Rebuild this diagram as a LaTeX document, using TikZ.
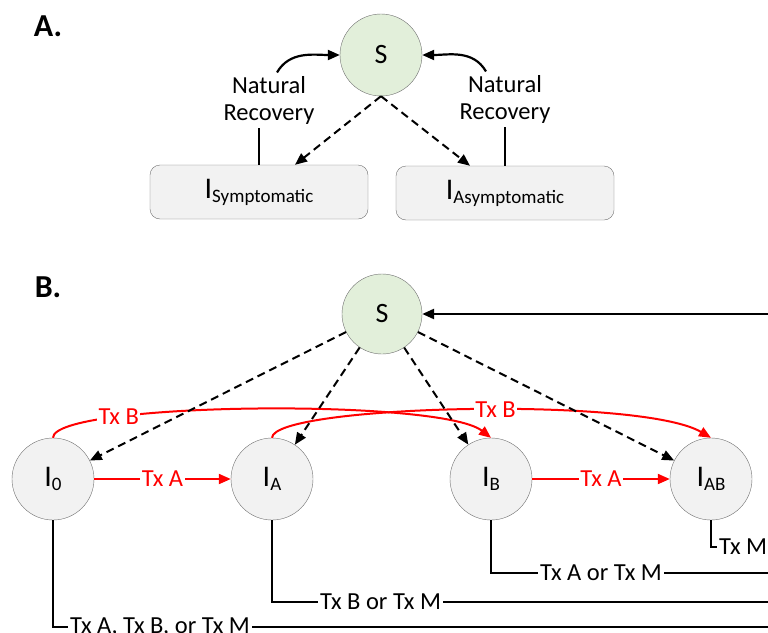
\documentclass[tikz,border=0pt]{standalone}
\usepackage{fontspec}
\setmainfont{Carlito}
\usetikzlibrary{arrows.meta}
\definecolor{susgreen}{HTML}{E2EFDA}
\definecolor{infgray}{HTML}{F2F2F2}
\definecolor{edgegray}{HTML}{707070}
\newcommand\lowsub[1]{\raisebox{-4pt}{\fontsize{19}{20}\selectfont #1}}
\begin{document}
\begin{tikzpicture}[x=1pt,y=1pt,
  font=\fontsize{24.5}{27}\selectfont,
  tip/.style={-{Triangle[length=12pt,width=10pt]}},
  panel/.style={font=\fontsize{32}{32}\selectfont\bfseries},
  sus/.style={draw=edgegray,circle,fill=susgreen,minimum size=82pt,inner sep=0pt,font=\fontsize{28}{28}\selectfont},
  state/.style={draw=edgegray,circle,fill=infgray,minimum size=82pt,inner sep=0pt,font=\fontsize{30}{30}\selectfont},
  box/.style={draw=edgegray,rounded corners=10pt,fill=infgray,minimum width=218pt,minimum height=54pt,font=\fontsize{30}{30}\selectfont},
  flow/.style={line width=2.2pt},
  infect/.style={line width=2pt,dash pattern=on 8pt off 5pt,tip},
  treat/.style={red,line width=2pt,tip},
  tlabel/.style={text=red,fill=white,inner sep=1.5pt},
  outlabel/.style={anchor=west,inner sep=2pt}]
\useasboundingbox (0,0) rectangle (768,-632);
\clip (0,0) rectangle (768,-632);
% panel A
\node[panel] (labA) at (48,-26) {A.};
\node[sus] (sA) at (381,-55) {S};
\node[box] (symp) at (259,-192) {I\lowsub{Symptomatic}};
\node[box] (asym) at (505,-193) {I\lowsub{Asymptomatic}};
\node[align=center] (nrL) at (269,-100) {Natural\\Recovery};
\node[align=center] (nrR) at (505,-99) {Natural\\Recovery};
\draw[flow] (symp.north) -- (symp.north |- nrL.south);
\draw[flow] (asym.north) -- (asym.north |- nrR.south);
\draw[flow,tip] ([xshift=8pt]nrL.north) to[out=60,in=180] (sA.west);
\draw[flow,tip] ([xshift=-19pt]nrR.north) to[out=120,in=0] (sA.east);
\draw[infect] (sA.south) -- ([xshift=36pt]symp.north);
\draw[infect] (sA.south) -- ([xshift=-35pt]asym.north);
% panel B
\node[panel] (labB) at (48,-287) {B.};
\node[sus,minimum size=80pt] (sB) at (382,-314) {S};
\node[state] (i0) at (53,-479) {I\lowsub{0}};
\node[state] (iA) at (272,-479) {I\lowsub{A}};
\node[state] (iB) at (491,-479) {I\lowsub{B}};
\node[state] (iAB) at (711,-479) {I\lowsub{AB}};
\coordinate (rim) at (768,0);
\draw[line width=2.5pt,tip] (rim |- sB) -- (sB.east);
% treatment
\draw[treat] (i0) -- node[tlabel]{Tx A} (iA);
\draw[treat] (iB) -- node[tlabel]{Tx A} (iAB);
\draw[treat] (i0.north) .. controls (53,-402) and (440,-398) .. (iB.north) node[tlabel,pos=0.26]{Tx B};
\draw[treat] (iA.north) .. controls (273,-405) and (640,-396) .. (iAB.north) node[tlabel,pos=0.55]{Tx B};
% infection
\foreach \inf in {i0,iA,iB,iAB}
  \draw[infect] (sB) -- (\inf);
% recovery
\node[outlabel] (out0) at (68,-627) {Tx A, Tx B, or Tx M};
\node[outlabel] (outA) at (318,-602) {Tx B or Tx M};
\node[outlabel] (outB) at (538,-573) {Tx A or Tx M};
\node[outlabel] (outAB) at (717,-547) {Tx M};
\foreach \inf/\out in {i0/out0,iA/outA,iB/outB,iAB/outAB}
  \draw[flow] (\inf.south) |- (\out.west);
\foreach \out in {out0,outA,outB}
  \draw[flow] (\out.east) -- (\out.east -| rim);
\end{tikzpicture}
\end{document}
